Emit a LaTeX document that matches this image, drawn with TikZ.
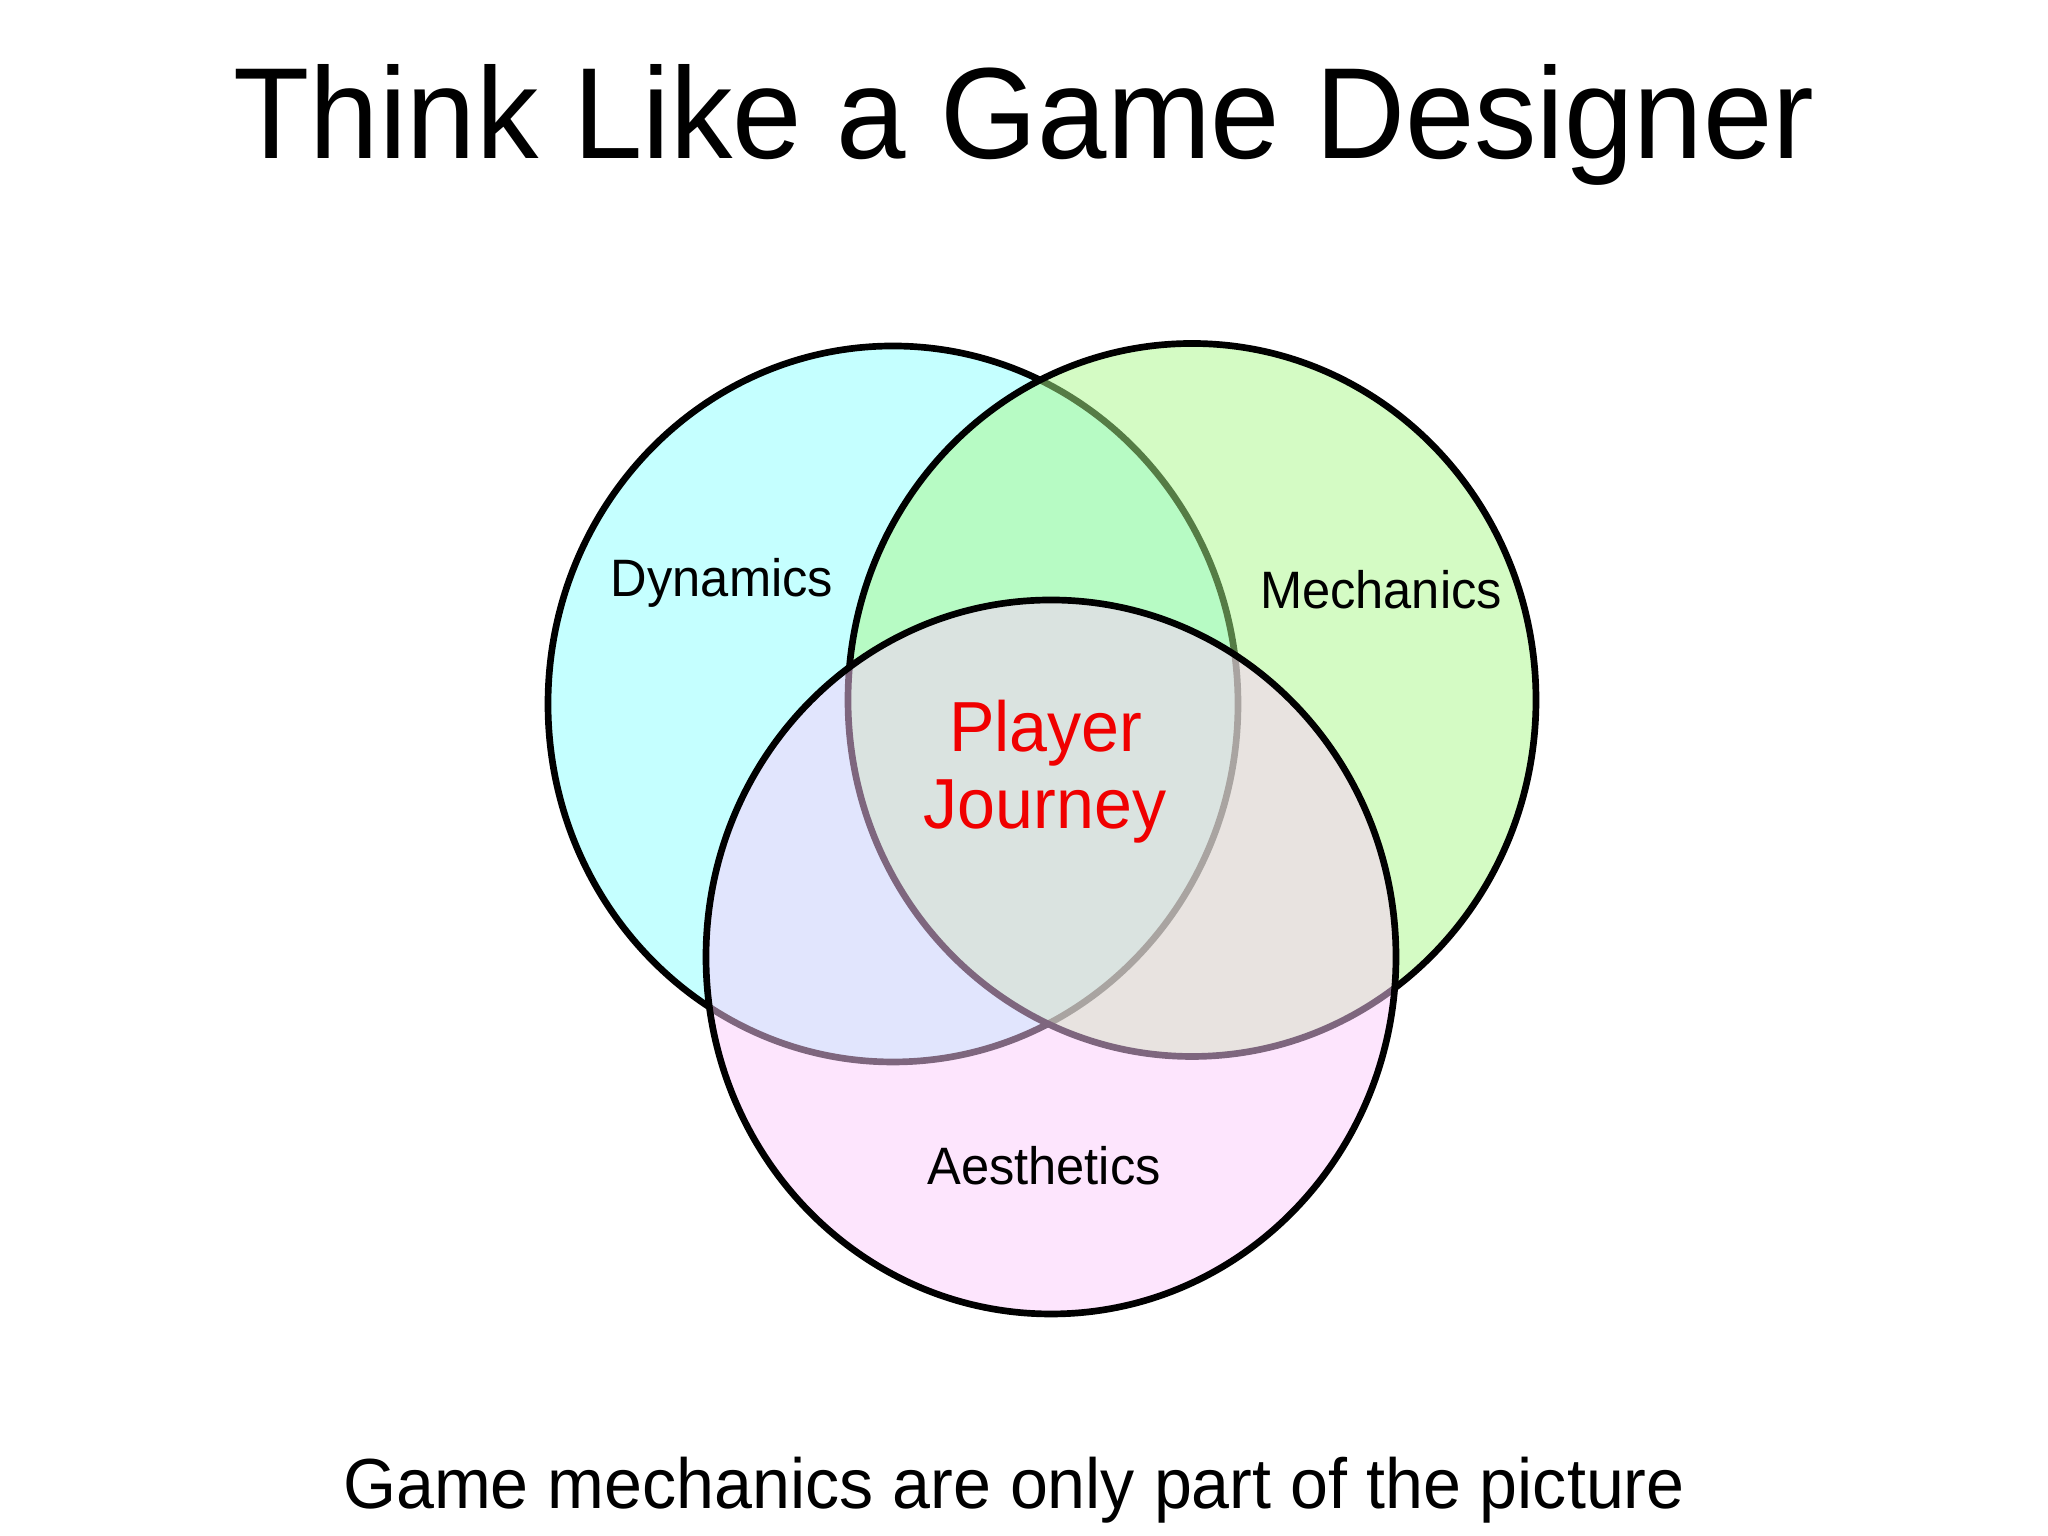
\documentclass[tikz,border=0pt]{standalone}
\usepackage{fontspec}
\setmainfont{Liberation Sans}
\usepackage{tikz}
\usetikzlibrary{positioning}

\definecolor{dynfill}{RGB}{141,255,255}
\definecolor{mechfill}{RGB}{171,249,139}
\definecolor{aesfill}{RGB}{253,205,253}
\definecolor{journeyred}{RGB}{240,0,0}

\begin{document}
\begin{tikzpicture}[
        venn/.style={draw=black, line width=1.9pt, fill opacity=0.5},
        tall/.style={yscale=1.04, transform shape},
        setlabel/.style={tall, anchor=base, font=\fontsize{14.4}{17}\selectfont},
        centerlabel/.style={tall, anchor=base, text=journeyred, font=\fontsize{19.4}{23}\selectfont}
    ]
        \useasboundingbox (0,0) rectangle (20.48,15.36);
        \fill[white] (0,0) rectangle (20.48,15.36);
        \node[tall, anchor=base, font=\fontsize{35.5}{42}\selectfont] (title) at (10.24,13.77) {Think Like a Game Designer};
        \filldraw[venn, fill=dynfill] (8.93,8.32) ellipse [x radius=3.45, y radius=3.58];
        \filldraw[venn, fill=mechfill] (11.92,8.36) ellipse [x radius=3.44, y radius=3.565];
        \filldraw[venn, fill=aesfill] (10.51,5.79) ellipse [x radius=3.45, y radius=3.57];
        \node[setlabel] (dynamics) at (7.22,9.39) {Dynamics};
        \node[setlabel] (mechanics) at (13.81,9.27) {Mechanics};
        \node[setlabel] (aesthetics) at (10.44,3.515) {Aesthetics};
        \node[centerlabel] (player) at (10.46,7.84) {Player};
        \node[centerlabel] (journey) at (10.45,7.07) {Journey};
        \node[tall, anchor=base, font=\fontsize{19.4}{23}\selectfont] (caption) at (10.14,0.276) {Game mechanics are only part of the picture};
    \end{tikzpicture}
\end{document}
